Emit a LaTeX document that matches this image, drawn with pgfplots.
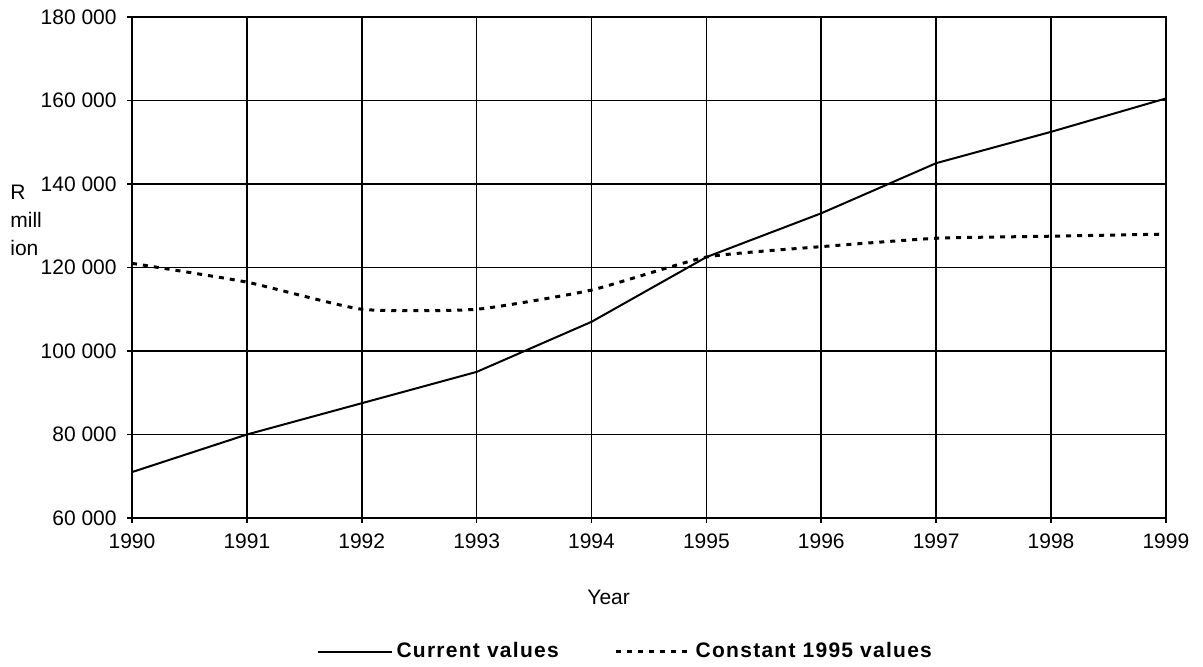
\documentclass[border=0pt]{standalone}
\usepackage{fontspec}
\setmainfont{Liberation Sans}
\usepackage{pgfplots}
\pgfplotsset{compat=1.18}

\begin{document}
\begin{tikzpicture}
    \begin{axis}[
            scale only axis,
            width=517pt,
            height=250.5pt,
            xmin=1990, xmax=1999,
            ymin=60000, ymax=180000,
            scaled x ticks=false,
            scaled y ticks=false,
            xtick={1990,...,1999},
            xticklabels={1990,1991,1992,1993,1994,1995,1996,1997,1998,1999},
            ytick={60000,80000,100000,120000,140000,160000,180000},
            yticklabels={60 000,80 000,100 000,120 000,140 000,160 000,180 000},
            tick align=outside,
            major tick length=2.5pt,
            tick style={black, line width=0.8pt},
            xtick pos=bottom, ytick pos=left,
            grid=major,
            grid style={black, line width=0.8pt},
            axis line style={black, line width=0.8pt},
            font=\fontsize{10.5}{12}\selectfont,
            yticklabel style={inner sep=0pt, xshift=-5pt},
            xticklabel style={inner sep=0pt, yshift=-5pt},
            xlabel={Year},
            xlabel style={at={(axis description cs:0.461,-0.158)}, anchor=center},
            legend columns=2,
            legend style={
                draw=none,
                at={(axis description cs:0.478,-0.267)},
                anchor=center,
                font=\fontsize{10.5}{12}\selectfont\bfseries\addfontfeatures{LetterSpace=6},
                /tikz/every even column/.append style={column sep=26pt},
                inner sep=0pt,
            },
            legend image code/.code={\draw[#1] (0pt,0pt) -- (37pt,0pt);},
            clip=false,
        ]

        % Current values
        \addplot[black, line width=1pt] coordinates {
            (1990,71000)
            (1991,80000)
            (1992,87500)
            (1993,95000)
            (1994,107000)
            (1995,122500)
            (1996,133000)
            (1997,145000)
            (1998,152500)
            (1999,160500)
        };
        \addlegendentry{Current values}

        % Constant 1995 values
        \addplot[black, line width=1.5pt, smooth, tension=0.3, dash pattern=on 2.5pt off 3pt] coordinates {
            (1990,121000)
            (1991,116500)
            (1992,110000)
            (1993,110000)
            (1994,114600)
            (1995,122500)
            (1996,125000)
            (1997,127000)
            (1998,127500)
            (1999,128000)
        };
        \addlegendentry{Constant 1995 values}

        \node[anchor=west, align=left, inner sep=0pt,
              font=\fontsize{10.5}{14}\selectfont]
            at (rel axis cs:-0.118,0.595) {R\\mill\\ion};

        \coordinate (sw) at (rel axis cs:0,0);
        \coordinate (ne) at (rel axis cs:1,1);
    \end{axis}
    \pgfresetboundingbox
    \path ([shift={(-66pt,-74pt)}]sw) rectangle ([shift={(18.5pt,8.5pt)}]ne);
\end{tikzpicture}
\end{document}
